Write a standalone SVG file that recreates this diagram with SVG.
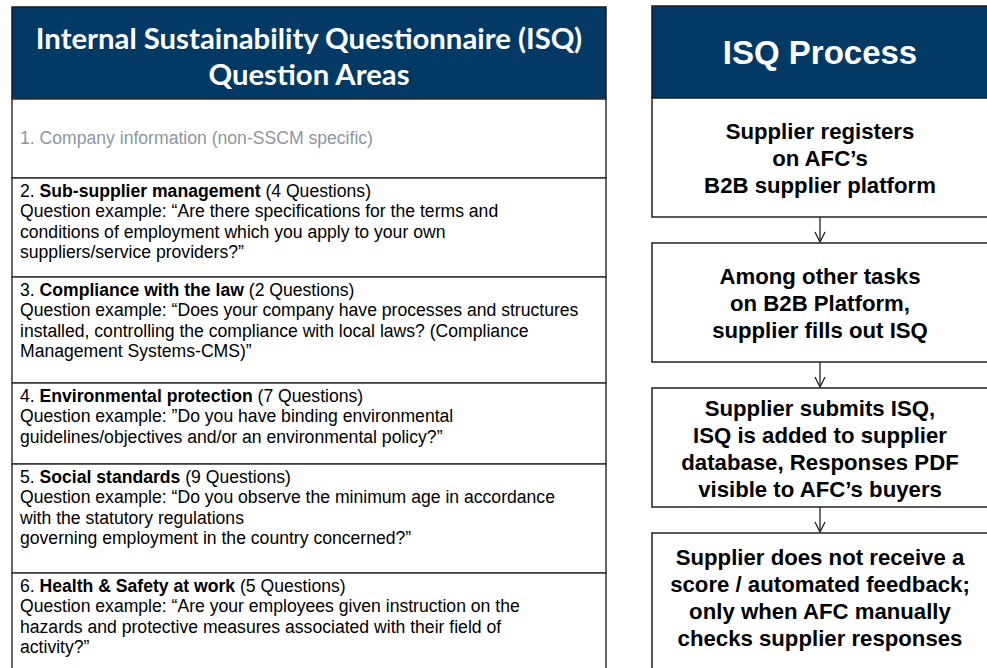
<svg xmlns="http://www.w3.org/2000/svg" width="987" height="668" viewBox="0 0 987 668">
<style>
.hdr{fill:#023A65;stroke:#1a1a1a;stroke-width:1.5}
.row{fill:#ffffff;stroke:#333333;stroke-width:1.5}
.box{fill:#ffffff;stroke:#222222;stroke-width:1.5}
.ttl{font-family:Lato,"Liberation Sans",sans-serif;font-weight:bold;font-size:29.3px;fill:#ffffff;text-anchor:middle}
.body{font-family:"Liberation Sans",Arial,sans-serif;font-size:17.6px;fill:#000000}
.gray{fill:#8C96A2}
.b{font-weight:bold}
.ptl{font-family:"Liberation Sans",Arial,sans-serif;font-weight:bold;font-size:33px;fill:#ffffff;text-anchor:middle}
.pt{font-family:"Liberation Sans",Arial,sans-serif;font-weight:bold;font-size:22.2px;fill:#000000;text-anchor:middle}
.conn{stroke:#222222;stroke-width:1.3;fill:none}
</style>
<defs>
<marker id="arr" viewBox="0 0 12 12" refX="11" refY="6" markerWidth="12" markerHeight="12" markerUnits="userSpaceOnUse" orient="auto">
<path d="M1,1 L11,6 L1,11" fill="none" stroke="#222222" stroke-width="1.3"/>
</marker>
</defs>

<g id="areas-header">
<rect class="hdr" x="12" y="7" width="594" height="92"/>
<text class="ttl" x="309" y="49"><tspan x="309" y="49">Internal Sustainability Questionnaire (ISQ)</tspan><tspan x="309" y="84.5">Question Areas</tspan></text>
</g>
<g id="area-1">
<rect class="row" x="12" y="99" width="594" height="79"/>
<text class="body gray" x="20" y="144">1. Company information (non-SSCM specific)</text>
</g>
<g id="area-2">
<rect class="row" x="12" y="178" width="594" height="99"/>
<text class="body" x="20" y="197"><tspan x="20" y="197">2. <tspan class="b">Sub-supplier management</tspan> (4 Questions)</tspan><tspan x="20" y="217.3">Question example: “Are there specifications for the terms and</tspan><tspan x="20" y="237.6">conditions of employment which you apply to your own</tspan><tspan x="20" y="257.9">suppliers/service providers?”</tspan></text>
</g>
<g id="area-3">
<rect class="row" x="12" y="277" width="594" height="106"/>
<text class="body" x="20" y="296"><tspan x="20" y="296">3. <tspan class="b">Compliance with the law</tspan> (2 Questions)</tspan><tspan x="20" y="316.3">Question example: “Does your company have processes and structures</tspan><tspan x="20" y="336.6">installed, controlling the compliance with local laws? (Compliance</tspan><tspan x="20" y="356.9">Management Systems-CMS)”</tspan></text>
</g>
<g id="area-4">
<rect class="row" x="12" y="383" width="594" height="81"/>
<text class="body" x="20" y="402"><tspan x="20" y="402">4. <tspan class="b">Environmental protection</tspan> (7 Questions)</tspan><tspan x="20" y="422.3">Question example: ”Do you have binding environmental</tspan><tspan x="20" y="442.6">guidelines/objectives and/or an environmental policy?”</tspan></text>
</g>
<g id="area-5">
<rect class="row" x="12" y="464" width="594" height="109"/>
<text class="body" x="20" y="483"><tspan x="20" y="483">5. <tspan class="b">Social standards</tspan> (9 Questions)</tspan><tspan x="20" y="503.3">Question example: “Do you observe the minimum age in accordance</tspan><tspan x="20" y="523.6">with the statutory regulations</tspan><tspan x="20" y="543.9">governing employment in the country concerned?”</tspan></text>
</g>
<g id="area-6">
<rect class="row" x="12" y="573" width="594" height="110"/>
<text class="body" x="20" y="592"><tspan x="20" y="592">6. <tspan class="b">Health &amp; Safety at work</tspan> (5 Questions)</tspan><tspan x="20" y="612.3">Question example: “Are your employees given instruction on the</tspan><tspan x="20" y="632.6">hazards and protective measures associated with their field of</tspan><tspan x="20" y="652.9">activity?”</tspan></text>
</g>

<g id="process-header">
<rect class="hdr" x="652" y="6" width="336" height="92"/>
<text class="ptl" x="820" y="64">ISQ Process</text>
</g>
<g id="step-1">
<rect class="box" x="652" y="98" width="336" height="119"/>
<text class="pt" x="820" y="139"><tspan x="820" y="139">Supplier registers</tspan><tspan x="820" y="166">on AFC’s</tspan><tspan x="820" y="193">B2B supplier platform</tspan></text>
</g>
<g id="step-2">
<rect class="box" x="652" y="243" width="336" height="119"/>
<text class="pt" x="820" y="284"><tspan x="820" y="284">Among other tasks</tspan><tspan x="820" y="311">on B2B Platform,</tspan><tspan x="820" y="338">supplier fills out ISQ</tspan></text>
</g>
<g id="step-3">
<rect class="box" x="652" y="388" width="336" height="119"/>
<text class="pt" x="820" y="416"><tspan x="820" y="416">Supplier submits ISQ,</tspan><tspan x="820" y="443">ISQ is added to supplier</tspan><tspan x="820" y="470">database, Responses PDF</tspan><tspan x="820" y="497">visible to AFC’s buyers</tspan></text>
</g>
<g id="step-4">
<rect class="box" x="652" y="533" width="336" height="150"/>
<text class="pt" x="820" y="565"><tspan x="820" y="565">Supplier does not receive a</tspan><tspan x="820" y="592">score / automated feedback;</tspan><tspan x="820" y="619">only when AFC manually</tspan><tspan x="820" y="646">checks supplier responses</tspan></text>
</g>

<g id="connectors">
<line class="conn" x1="820" y1="217" x2="820" y2="242" marker-end="url(#arr)"/>
<line class="conn" x1="820" y1="362" x2="820" y2="387" marker-end="url(#arr)"/>
<line class="conn" x1="820" y1="507" x2="820" y2="532" marker-end="url(#arr)"/>
</g>
</svg>
